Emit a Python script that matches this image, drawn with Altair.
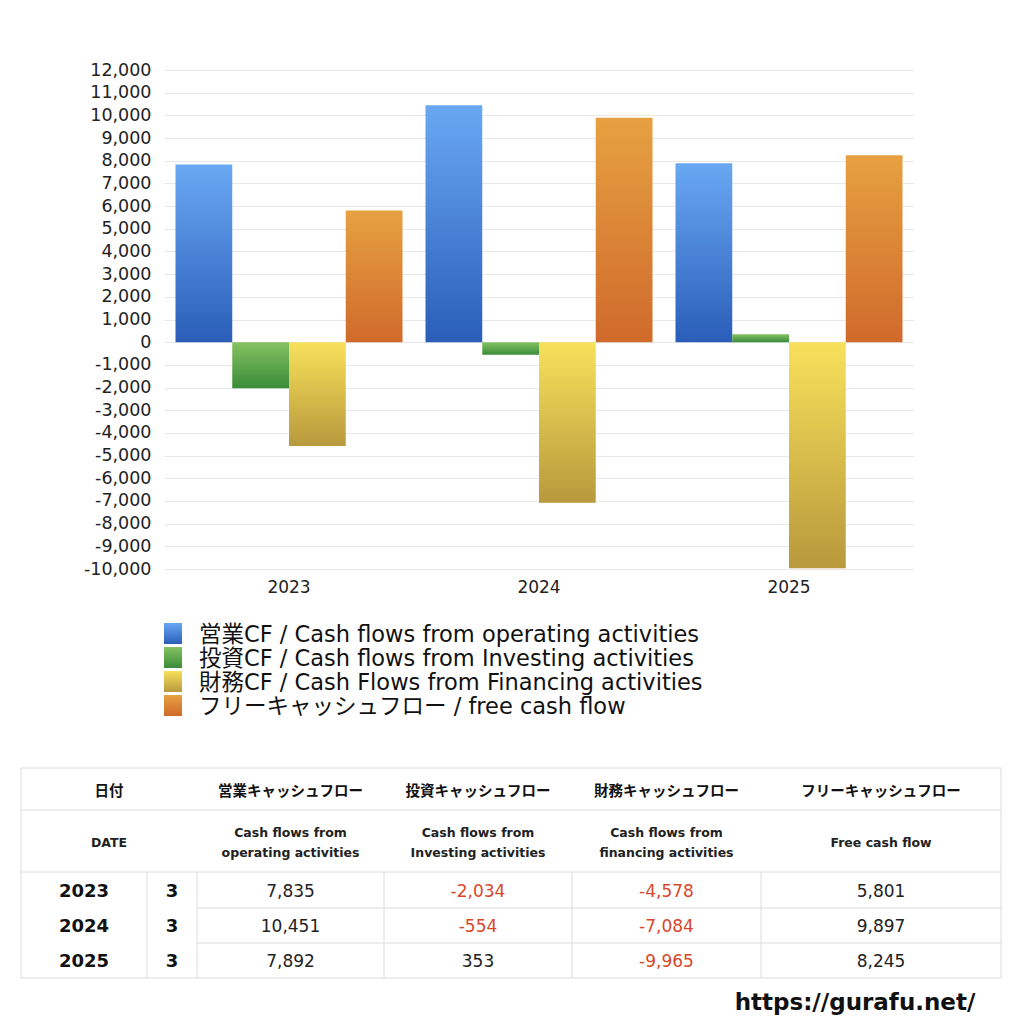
import altair as alt
import pandas as pd

# ---- data ----
years = ["2023", "2024", "2025"]
months = ["3", "3", "3"]
operating_cf = [7835, 10451, 7892]
investing_cf = [-2034, -554, 353]
financing_cf = [-4578, -7084, -9965]
free_cf = [5801, 9897, 8245]

series_keys = ["op", "inv", "fin", "free"]
legend_labels = [
    "営業CF / Cash flows from operating activities",
    "投資CF / Cash flows from Investing activities",
    "財務CF / Cash Flows from Financing activities",
    "フリーキャッシュフロー / free cash flow",
]
header_jp = ["日付", "営業キャッシュフロー", "投資キャッシュフロー", "財務キャッシュフロー", "フリーキャッシュフロー"]
header_en = ["DATE", "Cash flows from\noperating activities", "Cash flows from\nInvesting activities",
             "Cash flows from\nfinancing activities", "Free cash flow"]
site_url = "https://gurafu.net/"
y_ticks = list(range(-10000, 12001, 1000))

FONT = "DejaVu Sans, Noto Sans CJK JP"
JP_FONT = "Noto Sans CJK JP"

# gradient end colours (top, bottom)
series_colors = {
    "op": ("#6aa8f3", "#2a5eb9"),
    "inv": ("#85c262", "#3a8c39"),
    "fin": ("#f7e15b", "#b8993c"),
    "free": ("#e6a141", "#d06a2b"),
}


def grad(key):
    top, bottom = series_colors[key]
    return {"gradient": "linear", "x1": 0, "y1": 0, "x2": 0, "y2": 1,
            "stops": [{"offset": 0, "color": top}, {"offset": 1, "color": bottom}]}


# ---- bar chart ----
rows = []
for key, vals in zip(series_keys, [operating_cf, investing_cf, financing_cf, free_cf]):
    for yr, v in zip(years, vals):
        rows.append({"year": yr, "series": key, "value": v})
bars_df = pd.DataFrame(rows)

bar_layers = []
for key in series_keys:
    bar_layers.append(
        alt.Chart(bars_df).transform_filter(alt.datum.series == key).mark_bar(fill=grad(key)).encode(
            x=alt.X("year:N", title=None,
                    scale=alt.Scale(domain=years, paddingInner=0.092, paddingOuter=0.046),
                    axis=alt.Axis(labelAngle=0, ticks=False, domain=False, labelPadding=10,
                                  labelFontSize=17, labelColor="#222", labelFont=FONT)),
            xOffset=alt.XOffset("series:N", scale=alt.Scale(domain=series_keys, paddingInner=0, paddingOuter=0)),
            y=alt.Y("value:Q", title=None,
                    scale=alt.Scale(domain=[-10000, 12000], nice=False),
                    axis=alt.Axis(values=y_ticks, grid=True, gridColor="#e8e8e8", domain=False, ticks=False,
                                  labelPadding=13, labelFontSize=17.5, labelColor="#222", labelFont=FONT,
                                  labelExpr="replace(format(datum.value, ',d'), '\u2212', '-')",
                                  minExtent=143, maxExtent=143)),
        )
    )
bars = alt.layer(*bar_layers).properties(width=750, height=499)

# ---- bottom panel: legend, table, url (page pixel layout) ----
xs = alt.Scale(domain=[163, 1000], nice=False, zero=False)
ys = alt.Scale(domain=[610, 1016], nice=False, zero=False, reverse=True)


def enc_xy(**kw):
    d = {"x": alt.X("x:Q", scale=xs, axis=None), "y": alt.Y("y:Q", scale=ys, axis=None)}
    d.update(kw)
    return d


legend_layers = []
row_y = [634, 658, 682, 706]
for i, key in enumerate(series_keys):
    sw = pd.DataFrame([{"x": 163, "x2": 181, "y": row_y[i] - 11, "y2": row_y[i] + 10}])
    legend_layers.append(
        alt.Chart(sw).mark_rect(fill=grad(key)).encode(**enc_xy(x2="x2:Q", y2="y2:Q"))
    )
leg_text = pd.DataFrame({"x": [198] * 4, "y": [r + 1 for r in row_y], "label": legend_labels})
legend_layers.append(
    alt.Chart(leg_text).mark_text(align="left", baseline="middle", fontSize=22.5, font=FONT, color="#111")
    .encode(**enc_xy(text="label:N"))
)

col_edges = [20, 146, 196, 383, 571, 760, 1000]
row_edges = [768, 810, 872, 908, 943, 978]
val_centers = [(col_edges[i] + col_edges[i + 1]) / 2 for i in range(2, 6)]
head_centers = [(col_edges[0] + col_edges[2]) / 2] + val_centers
data_rows = [(row_edges[i] + row_edges[i + 1]) / 2 + 1.5 for i in range(2, 5)]

rules = []
for y in [768, 810, 872, 978]:
    rules.append({"x": 20, "x2": 1000, "y": y, "y2": y})
for y in [908, 943]:
    rules.append({"x": 196, "x2": 1000, "y": y, "y2": y})
for x in [20, 1000]:
    rules.append({"x": x, "x2": x, "y": 768, "y2": 978})
for x in col_edges[1:-1]:
    rules.append({"x": x, "x2": x, "y": 872, "y2": 978})
rule_layer = alt.Chart(pd.DataFrame(rules)).mark_rule(color="#dcdcdc", strokeWidth=1).encode(
    **enc_xy(x2="x2:Q", y2="y2:Q"))

hj = pd.DataFrame({"x": head_centers, "y": [792] * 5, "label": header_jp})
hj_layer = alt.Chart(hj).mark_text(baseline="middle", fontSize=14.5, fontWeight="bold", font=JP_FONT,
                                   color="#111").encode(**enc_xy(text="label:N"))
he_y = [843 if "\n" not in t else 833 for t in header_en]
he = pd.DataFrame({"x": head_centers, "y": he_y, "label": header_en})
he_layer = alt.Chart(he).mark_text(baseline="middle", fontSize=12.5, fontWeight="bold", font=FONT, color="#222",
                                   lineBreak="\n", lineHeight=20).encode(**enc_xy(text="label:N"))

left_cells = []
for yr, mo, y in zip(years, months, data_rows):
    left_cells.append({"x": (col_edges[0] + col_edges[1]) / 2, "y": y, "label": yr})
    left_cells.append({"x": (col_edges[1] + col_edges[2]) / 2, "y": y, "label": mo})
left_layer = alt.Chart(pd.DataFrame(left_cells)).mark_text(
    baseline="middle", fontSize=18, fontWeight="bold", font=FONT, color="#111").encode(**enc_xy(text="label:N"))

cells = []
for ci, vals in enumerate([operating_cf, investing_cf, financing_cf, free_cf]):
    for ri, v in enumerate(vals):
        cells.append({"x": val_centers[ci], "y": data_rows[ri], "v": v, "label": f"{v:,}"})
val_layer = alt.Chart(pd.DataFrame(cells)).mark_text(baseline="middle", fontSize=17, font=FONT).encode(
    **enc_xy(text="label:N",
             color=alt.condition(alt.datum.v < 0, alt.value("#d9472b"), alt.value("#222222"))))

url_layer = alt.Chart(pd.DataFrame({"x": [854], "y": [1003], "label": [site_url]})).mark_text(
    baseline="middle", fontSize=23, fontWeight="bold", font=FONT, color="#111").encode(**enc_xy(text="label:N"))

bottom = alt.layer(*legend_layers, rule_layer, hj_layer, he_layer, left_layer, val_layer, url_layer).properties(
    width=837, height=406)

chart = alt.vconcat(bars, bottom, spacing=15).properties(
    padding={"left": 12, "top": 53, "right": 5, "bottom": 0}
).configure_view(stroke=None)

chart.save("out.html", embed_options={"renderer": "svg", "actions": False})
